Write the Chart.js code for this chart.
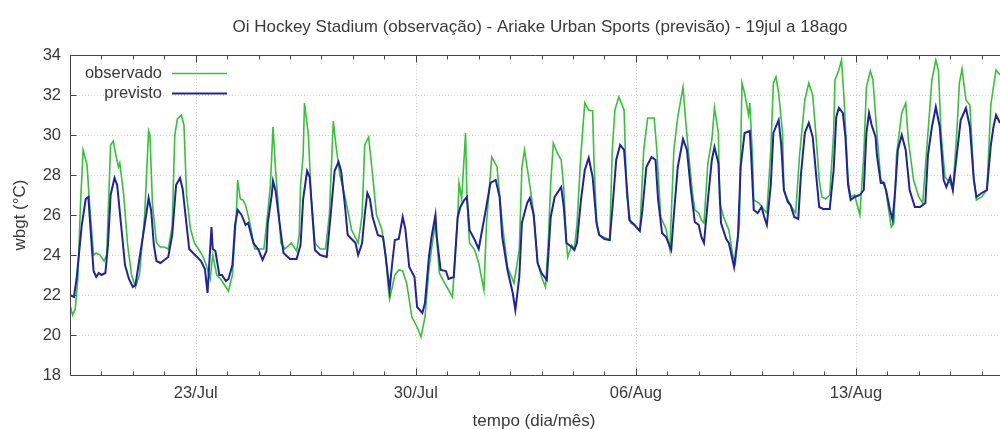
<!DOCTYPE html>
<html lang="pt">
<head>
  <meta charset="UTF-8">
  <title>WBGT observado x previsto</title>
  <style>
    body { margin: 0; padding: 0; background: #fff; }
    #chart { display: block; }
  </style>
</head>
<body>
  <canvas id="chart" width="1000" height="429"></canvas>

  <script src="https://cdn.jsdelivr.net/npm/chart.js@4"></script>
  <script>
    // Data (hours since 19 Jul 00:00, wbgt in °C)
    const obsHours = [
      0, 2, 4, 6, 8, 10, 11, 13, 15, 18, 20, 23, 26, 28, 31, 33, 35, 37, 38, 41, 44, 47, 50, 53, 57, 60, 61, 63, 66, 69,
      72, 75, 78, 80, 82, 85, 87, 89, 92, 95, 98, 101, 104, 107, 109, 112, 115, 118, 121, 124, 127, 128, 130, 132, 134, 137, 141, 145, 148, 150,
      153, 155, 157, 159, 161, 164, 169, 173, 175, 176, 178, 179, 182, 184, 187, 191, 195, 198, 201, 203, 206, 210, 215, 220, 223, 225, 228, 231, 234, 238,
      241, 243, 244, 248, 251, 254, 257, 261, 265, 268, 271, 274, 276, 279, 282, 286, 289, 292, 296, 297, 299, 302, 303, 305, 309, 312, 316, 318, 322, 326,
      330, 334, 339, 343, 345, 347, 351, 354, 357, 360, 363, 365, 367, 369, 372, 375, 377, 379, 380, 383, 385, 387, 390, 393, 396, 399, 400, 402, 404, 412,
      414, 416, 419, 423, 425, 428, 431, 435, 438, 441, 446, 448, 451, 453, 455, 458, 461, 464, 468, 470, 472, 475, 477, 480, 482, 484, 487, 490, 492, 495,
      496, 499, 503, 506, 508, 511, 513, 515, 518, 519, 521, 522, 526, 530, 532, 535, 537, 539, 541, 544, 545, 548, 551, 554, 557, 561, 564, 567, 569, 572,
      574, 577, 580, 583, 584, 587, 589, 591, 594, 596, 599, 603, 606, 608, 611, 613, 616, 619, 622, 625, 627, 629, 631, 635, 638, 640, 644, 648, 651, 655,
      658, 661, 663, 665, 668, 672, 674, 677, 679, 681, 684, 687, 690, 692, 696, 700, 703, 705, 707, 710
    ];
    const obsValues = [
      21.5, 21.0, 21.3, 22.8, 26.5, 29.25, 29.0, 28.5, 26.5, 24.0, 24.1, 24.0, 23.7, 24.0, 29.5, 29.7, 29.0, 28.4, 28.6, 27.0, 24.5, 23.0, 22.4, 23.0, 26.0, 30.2, 30.0, 26.5, 24.6, 24.4,
      24.4, 24.3, 25.4, 30.0, 30.8, 31.0, 30.5, 27.0, 25.3, 24.6, 24.3, 24.0, 23.5, 22.8, 24.0, 23.0, 22.8, 22.5, 22.2, 23.0, 26.0, 27.75, 26.8, 26.75, 26.5, 25.7, 24.3, 24.3, 24.3, 25.5,
      27.5, 30.4, 28.2, 26.5, 24.6, 24.3, 24.6, 24.2, 25.0, 27.5, 29.0, 31.6, 30.0, 27.0, 24.6, 24.3, 24.3, 26.0, 30.7, 29.5, 28.0, 26.9, 25.25, 24.6, 26.0, 29.5, 29.9, 28.0, 26.0, 25.3,
      24.0, 22.3, 21.8, 23.0, 23.25, 23.2, 22.6, 20.9, 20.4, 19.9, 20.9, 23.25, 24.3, 25.6, 23.1, 22.6, 22.25, 21.9, 26.0, 27.6, 26.8, 30.1, 27.0, 24.6, 24.25, 23.6, 22.25, 25.6, 28.9, 28.4,
      25.6, 23.4, 22.6, 24.25, 28.4, 29.25, 27.5, 26.1, 23.6, 22.9, 22.4, 24.5, 27.6, 29.6, 29.1, 28.75, 27.3, 24.6, 23.9, 24.5, 24.3, 25.5, 29.0, 31.6, 31.25, 31.2, 28.75, 25.6, 25.0, 24.75,
      29.25, 31.25, 31.9, 31.25, 27.0, 25.6, 25.5, 25.2, 29.25, 30.85, 30.85, 29.25, 25.9, 25.6, 25.3, 24.25, 29.25, 30.9, 32.4, 30.75, 29.25, 27.25, 26.25, 26.1, 25.75, 25.6, 28.6, 29.75, 31.35, 30.1,
      26.6, 25.9, 25.25, 24.0, 23.6, 25.5, 32.6, 32.1, 31.0, 31.6, 29.0, 26.75, 26.6, 26.25, 26.1, 29.25, 32.6, 32.9, 32.1, 30.1, 27.25, 26.75, 26.4, 26.1, 29.0, 31.75, 32.6, 32.0, 30.4, 27.75,
      26.9, 26.8, 27.0, 30.1, 32.75, 33.25, 33.75, 31.75, 27.75, 26.9, 27.0, 26.0, 29.0, 32.4, 33.2, 32.75, 30.1, 27.75, 27.6, 26.25, 25.4, 25.6, 29.0, 31.1, 31.6, 29.75, 27.75, 26.9, 26.6, 30.1,
      32.75, 33.75, 33.25, 30.1, 27.9, 27.6, 27.25, 30.1, 32.6, 33.3, 31.75, 31.5, 27.9, 26.75, 26.9, 27.25, 31.5, 32.4, 33.25, 33.0
    ];

    const prevHours = [
      0, 3, 5, 9, 12, 14, 16, 18, 20, 22, 24, 27, 29, 31, 34, 36, 39, 42, 45, 48, 50, 53, 57, 60, 62, 64, 66, 69, 73, 75,
      78, 81, 84, 86, 89, 91, 94, 97, 100, 103, 105, 108, 109, 111, 114, 116, 119, 121, 124, 126, 128, 131, 134, 136, 140, 144, 147, 150, 151, 154,
      155, 157, 160, 163, 168, 173, 176, 178, 181, 183, 187, 191, 196, 199, 202, 205, 207, 210, 212, 218, 220, 223, 225, 227, 229, 231, 235, 239, 241, 244,
      246, 248, 251, 254, 256, 259, 263, 265, 269, 271, 274, 276, 279, 280, 283, 287, 289, 293, 296, 298, 301, 303, 305, 309, 312, 317, 321, 325, 328, 330,
      334, 338, 340, 343, 345, 349, 351, 354, 357, 360, 364, 367, 370, 375, 377, 379, 383, 385, 387, 390, 393, 396, 399, 402, 404, 408, 412, 414, 417, 420,
      423, 425, 427, 431, 435, 437, 440, 444, 447, 449, 452, 455, 459, 461, 464, 468, 471, 474, 477, 480, 482, 484, 487, 490, 492, 495, 497, 501, 503, 507,
      510, 512, 515, 519, 520, 522, 525, 528, 530, 532, 535, 537, 541, 543, 545, 548, 550, 553, 556, 558, 561, 564, 567, 570, 572, 575, 580, 583, 585, 587,
      590, 592, 594, 596, 599, 603, 606, 608, 610, 612, 615, 616, 619, 621, 623, 626, 628, 630, 632, 635, 638, 641, 645, 649, 653, 655, 658, 661, 664, 667,
      669, 672, 674, 677, 680, 684, 687, 690, 692, 696, 700, 703, 705, 707, 710
    ];
    const prevValues = [
      22.0, 21.9, 22.8, 25.5, 26.8, 26.9, 25.0, 23.2, 22.9, 23.1, 23.0, 23.1, 24.5, 27.0, 27.85, 27.5, 25.5, 23.5, 22.8, 22.4, 22.5, 23.8, 25.5, 26.85, 26.2, 24.5, 23.7, 23.6, 23.8, 23.9,
      25.0, 27.5, 27.85, 27.3, 25.5, 24.3, 24.1, 23.9, 23.7, 23.3, 22.1, 25.4, 24.3, 24.2, 23.0, 23.0, 22.7, 22.8, 23.5, 25.5, 26.25, 26.0, 25.5, 25.6, 24.6, 24.25, 23.75, 24.2, 25.6, 27.0,
      27.7, 27.2, 25.6, 24.1, 23.8, 23.8, 24.5, 26.8, 28.2, 27.9, 24.25, 24.0, 23.9, 26.0, 28.2, 28.65, 28.2, 26.4, 25.0, 24.6, 24.0, 24.6, 26.0, 27.1, 26.8, 25.9, 25.0, 24.9, 23.9, 22.25,
      23.6, 24.75, 24.8, 25.9, 25.3, 23.4, 22.9, 21.4, 21.1, 21.6, 23.9, 24.9, 26.0, 24.9, 23.25, 23.2, 22.8, 22.9, 25.9, 26.4, 26.75, 26.9, 25.25, 24.75, 24.3, 26.1, 27.6, 27.75, 26.9, 24.9,
      23.25, 22.1, 21.25, 22.9, 25.6, 26.6, 26.85, 26.0, 23.6, 23.1, 22.75, 25.9, 26.9, 27.4, 26.4, 24.6, 24.4, 24.25, 24.6, 26.7, 28.25, 28.85, 27.9, 25.6, 25.0, 24.8, 24.75, 26.25, 28.75, 29.5,
      29.25, 27.5, 25.75, 25.5, 25.2, 26.25, 28.4, 28.9, 28.75, 26.75, 25.1, 24.9, 24.25, 26.0, 28.4, 29.8, 29.25, 27.25, 25.65, 25.5, 24.9, 24.6, 26.75, 28.75, 29.4, 28.6, 25.6, 24.8, 24.6, 23.4,
      25.0, 28.4, 30.1, 30.2, 29.0, 26.25, 26.1, 26.4, 25.9, 25.5, 27.5, 30.1, 30.75, 29.5, 27.25, 26.65, 26.5, 25.9, 25.8, 28.0, 30.1, 30.6, 29.9, 27.75, 26.4, 26.3, 26.3, 28.25, 30.9, 31.35,
      31.1, 29.9, 27.5, 26.75, 26.9, 27.0, 27.25, 30.1, 31.1, 30.5, 29.9, 29.0, 27.6, 27.6, 27.25, 26.25, 25.75, 27.25, 29.25, 30.0, 29.25, 27.25, 26.4, 26.4, 26.6, 29.0, 30.4, 31.4, 30.4, 27.75,
      27.4, 27.9, 27.25, 29.0, 30.75, 31.35, 30.4, 27.75, 26.9, 27.1, 27.25, 29.5, 30.4, 31.0, 30.6
    ];

    // axis ticks
    const tickHours = [96, 264, 432, 600];
    const tickLabels = ['23/Jul', '30/Jul', '06/Aug', '13/Aug'];
    const yTicks = [18, 20, 22, 24, 26, 28, 30, 32, 34];
    const dayHours = [24, 48, 72, 96, 120, 144, 168, 192, 216, 240, 264, 288, 312, 336, 360, 384, 408, 432, 456, 480, 504, 528, 552, 576, 600, 624, 648, 672, 696];

    const FONT = "'Liberation Sans', Arial, sans-serif";
    const TEXT = '#3a3a3a';
    const GREEN = '#33c433';
    const BLUE = '#2020a8';

    function toPoints(hours, values) {
      return hours.map((h, i) => ({ x: h, y: values[i] }));
    }

    // gnuplot-like frame: dotted grid, border, inward ticks, legend and titles
    const gnuplotFrame = {
      id: 'gnuplotFrame',
      beforeDatasetsDraw(chart) {
        const { ctx, chartArea: a, scales: { x, y } } = chart;
        ctx.save();
        ctx.strokeStyle = '#d4d4d4';
        ctx.lineWidth = 1;
        ctx.setLineDash([1, 2]);
        ctx.beginPath();
        yTicks.forEach(v => {
          if (v <= 18 || v >= 34) return;
          const py = Math.round(y.getPixelForValue(v)) + 0.5;
          ctx.moveTo(a.left, py);
          ctx.lineTo(a.right, py);
        });
        tickHours.forEach(h => {
          const px = Math.round(x.getPixelForValue(h)) + 0.5;
          ctx.moveTo(px, a.top);
          ctx.lineTo(px, a.bottom);
        });
        ctx.stroke();
        ctx.restore();
      },
      afterDatasetsDraw(chart) {
        const { ctx, chartArea: a, scales: { x, y } } = chart;
        const top = Math.round(a.top) + 0.5;
        const bottom = Math.round(a.bottom) + 0.5;
        const left = Math.round(a.left) + 0.5;
        ctx.save();
        ctx.strokeStyle = '#444';
        ctx.lineWidth = 1;
        ctx.beginPath();
        ctx.moveTo(a.right, top);
        ctx.lineTo(left, top);
        ctx.lineTo(left, bottom);
        ctx.lineTo(a.right, bottom);
        // y ticks
        yTicks.forEach(v => {
          const py = Math.round(y.getPixelForValue(v)) + 0.5;
          ctx.moveTo(left, py);
          ctx.lineTo(left + 6, py);
        });
        // daily minor ticks + weekly major ticks, bottom and top
        dayHours.forEach(h => {
          const px = Math.round(x.getPixelForValue(h)) + 0.5;
          const len = tickHours.includes(h) ? 7 : 4;
          ctx.moveTo(px, bottom);
          ctx.lineTo(px, bottom - len);
          ctx.moveTo(px, top);
          ctx.lineTo(px, top + len);
        });
        ctx.stroke();
        ctx.restore();
      },
      afterDraw(chart) {
        const { ctx, chartArea: a } = chart;
        ctx.save();
        ctx.fillStyle = TEXT;
        ctx.textBaseline = 'middle';

        ctx.font = '17px ' + FONT;
        ctx.textAlign = 'center';
        ctx.fillText('Oi Hockey Stadium (observação) - Ariake Urban Sports (previsão) - 19jul a 18ago', 540, 27);
        ctx.fillText('tempo (dia/mês)', 534, 421);

        ctx.save();
        ctx.translate(20, (a.top + a.bottom) / 2);
        ctx.rotate(-Math.PI / 2);
        ctx.fillText('wbgt (°C)', 0, 0);
        ctx.restore();

        // legend
        ctx.font = '16.5px ' + FONT;
        ctx.textAlign = 'right';
        chart.data.datasets.forEach((ds, i) => {
          const ly = 73 + i * 20;
          ctx.fillStyle = TEXT;
          ctx.fillText(ds.label, 162, ly);
          ctx.strokeStyle = ds.borderColor;
          ctx.lineWidth = ds.borderWidth;
          ctx.beginPath();
          ctx.moveTo(172, ly + 0.5);
          ctx.lineTo(227, ly + 0.5);
          ctx.stroke();
        });
        ctx.restore();
      }
    };

    new Chart(document.getElementById('chart'), {
      type: 'line',
      data: {
        datasets: [
          {
            label: 'observado',
            data: toPoints(obsHours, obsValues),
            borderColor: GREEN,
            borderWidth: 1.6,
            pointRadius: 0,
            tension: 0,
            order: 1
          },
          {
            label: 'previsto',
            data: toPoints(prevHours, prevValues),
            borderColor: BLUE,
            borderWidth: 2,
            pointRadius: 0,
            tension: 0,
            order: 0
          }
        ]
      },
      options: {
        responsive: false,
        animation: false,
        devicePixelRatio: 1,
        layout: { padding: { top: 55, right: 0, left: 0, bottom: 0 } },
        plugins: {
          legend: { display: false },
          title: { display: false },
          tooltip: { enabled: false }
        },
        scales: {
          x: {
            type: 'linear',
            min: 0,
            max: 710,
            grid: { display: false, drawTicks: false },
            border: { display: false },
            afterBuildTicks(scale) {
              scale.ticks = tickHours.map(v => ({ value: v }));
            },
            afterFit(scale) { scale.height = 54; },
            ticks: {
              autoSkip: false,
              maxRotation: 0,
              padding: 9,
              color: TEXT,
              font: { family: FONT, size: 16.5 },
              callback: (v) => tickLabels[tickHours.indexOf(v)]
            }
          },
          y: {
            min: 18,
            max: 34,
            grid: { display: false, drawTicks: false },
            border: { display: false },
            afterBuildTicks(scale) {
              scale.ticks = yTicks.map(v => ({ value: v }));
            },
            afterFit(scale) { scale.width = 70; },
            ticks: {
              padding: 9,
              color: TEXT,
              font: { family: FONT, size: 16.5 }
            }
          }
        }
      },
      plugins: [gnuplotFrame]
    });
  </script>
</body>
</html>
